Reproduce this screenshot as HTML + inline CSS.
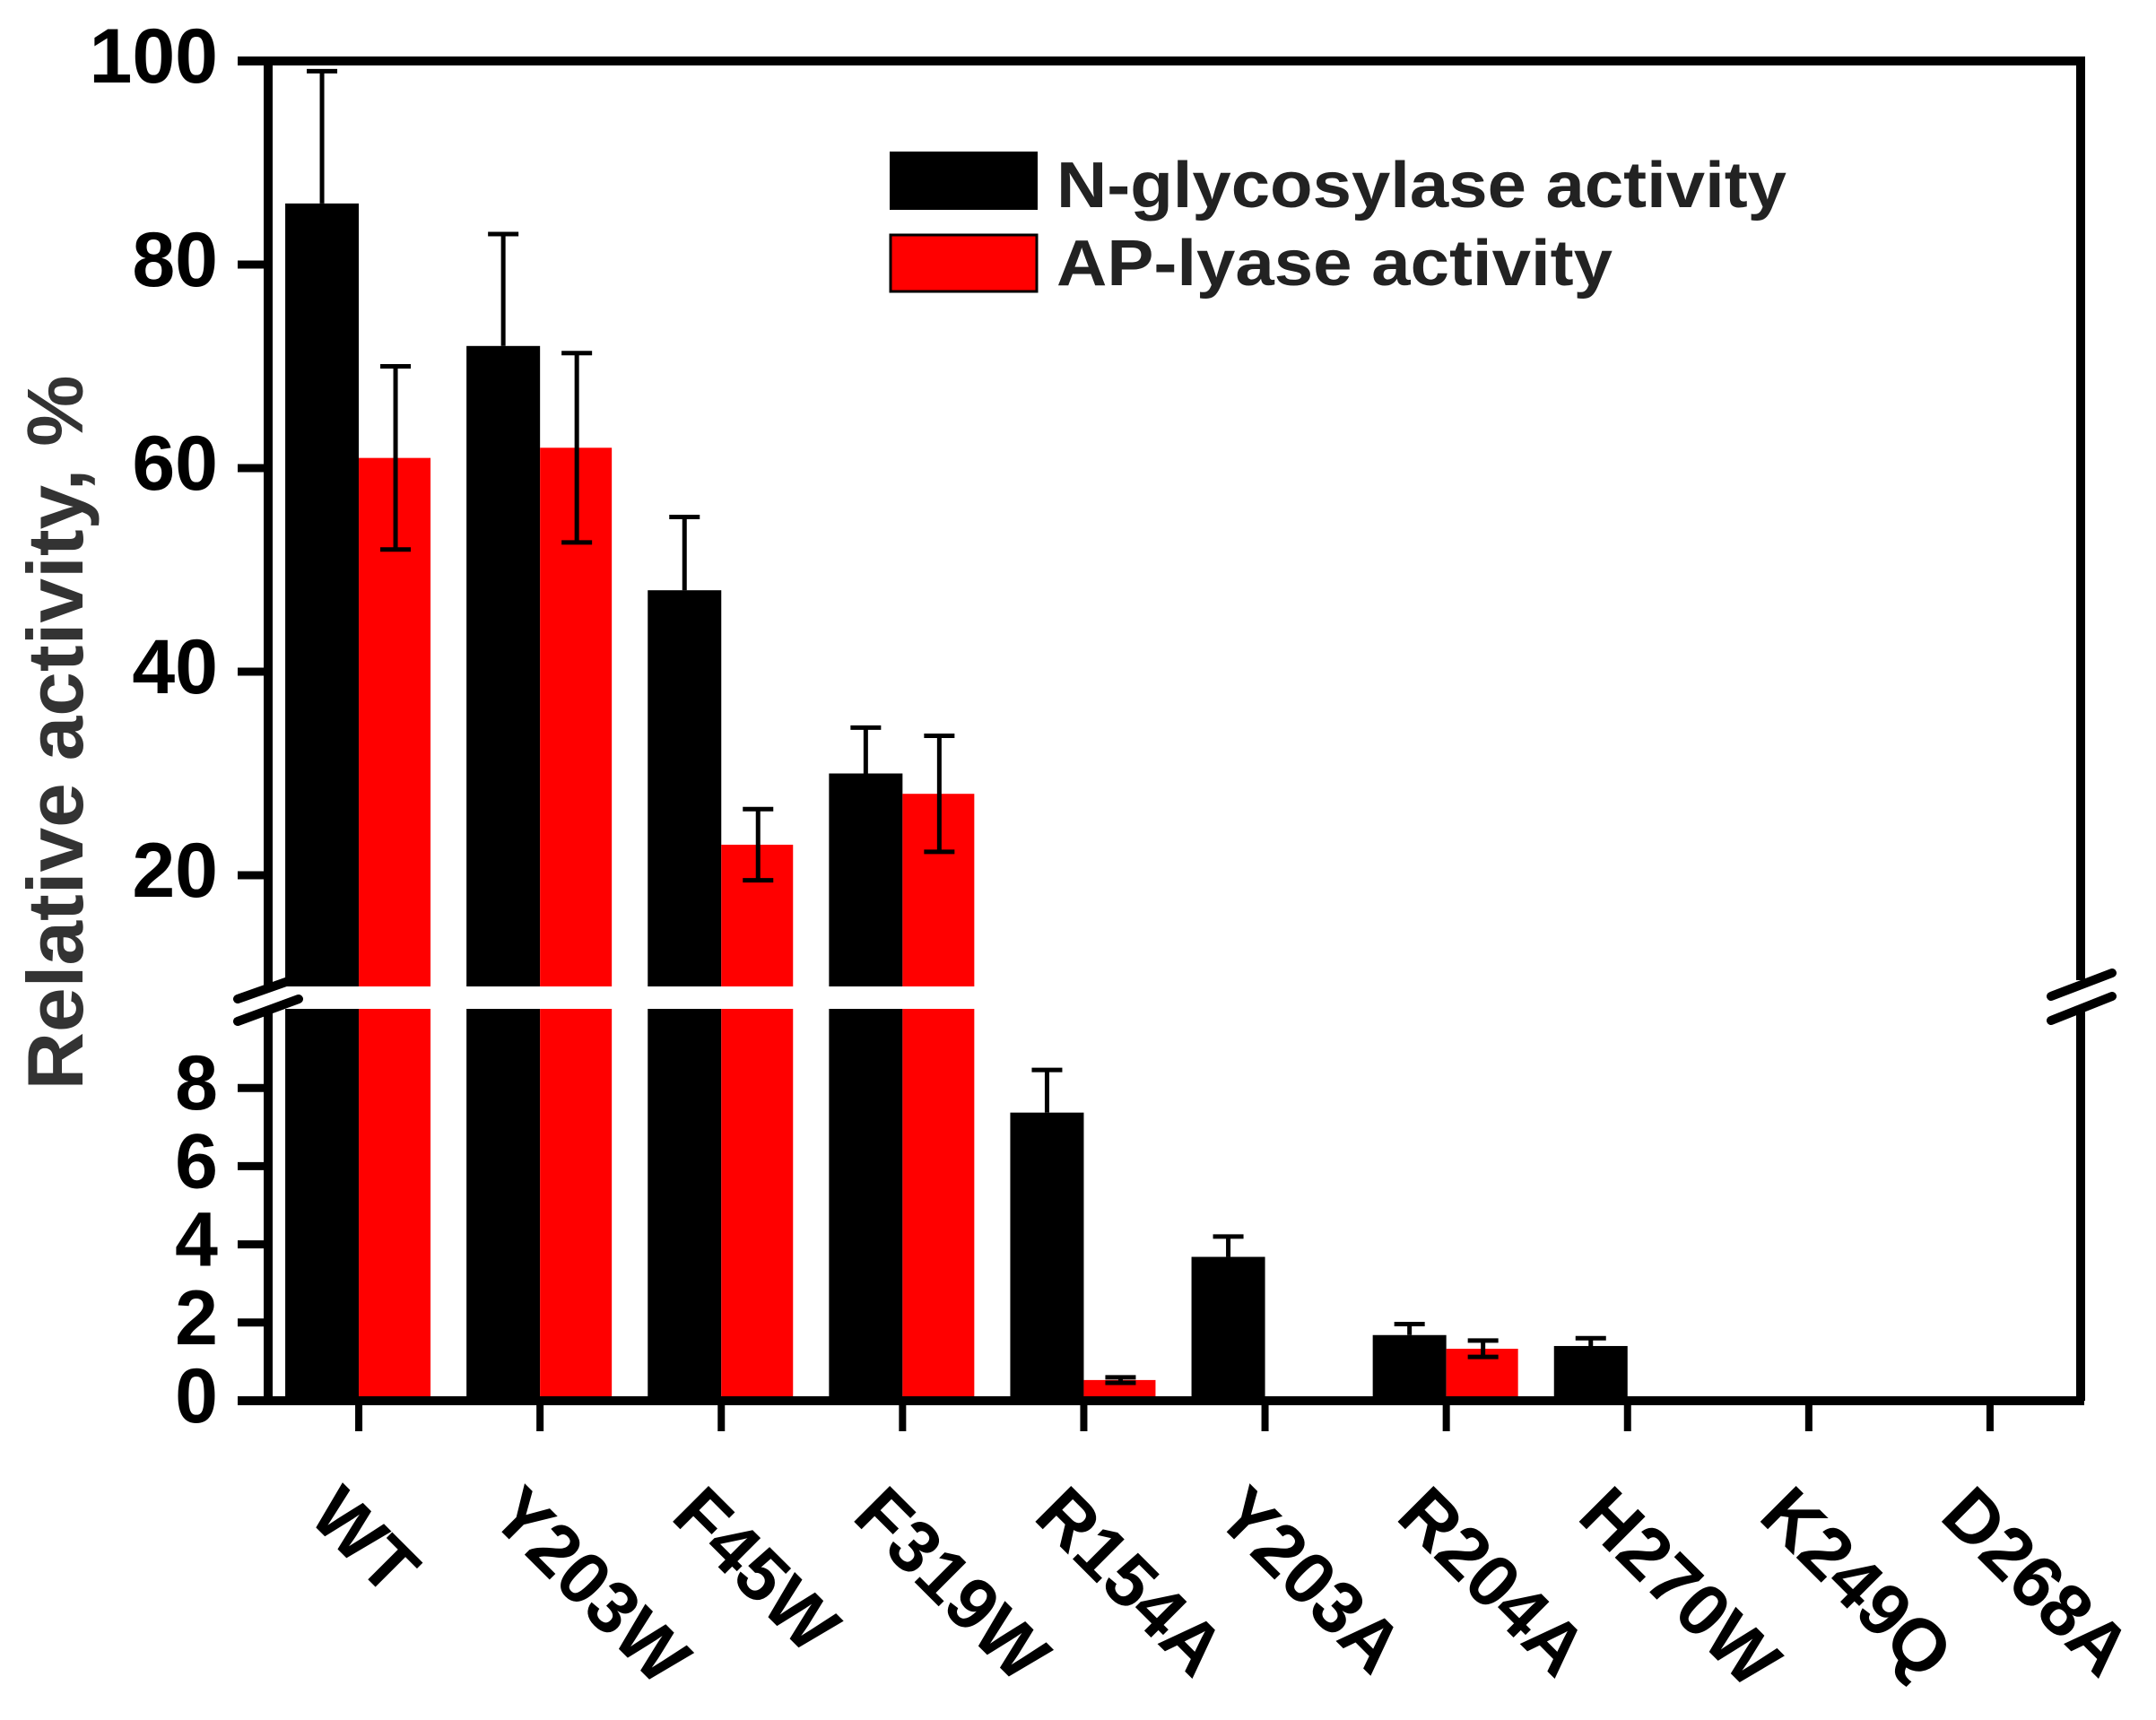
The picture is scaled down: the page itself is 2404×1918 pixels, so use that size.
<!DOCTYPE html>
<html><head><meta charset="utf-8"><style>
html,body{margin:0;padding:0;background:#fff;}
svg{display:block;}
text{font-family:"Liberation Sans",Arial,sans-serif;font-weight:bold;}
</style></head><body>
<svg id="chart" width="2404" height="1918" viewBox="0 0 2404 1918" xmlns="http://www.w3.org/2000/svg">
<g id="bars"></g>
<rect x="305" y="1100" width="2010" height="25" fill="#fff"/>
<g id="axes"></g>
<g>
<rect x="992" y="169" width="165" height="65" fill="#000"/>
<text x="1178" y="231" font-size="72" fill="#222" textLength="814" lengthAdjust="spacingAndGlyphs">N-glycosylase activity</text>
<rect x="993" y="262" width="163" height="63" fill="#f00" stroke="#000" stroke-width="3"/>
<text x="1178" y="318" font-size="72" fill="#222" textLength="620" lengthAdjust="spacingAndGlyphs">AP-lyase activity</text>
</g>
<text transform="translate(92,817) rotate(-90)" text-anchor="middle" font-size="88" fill="#333" textLength="797" lengthAdjust="spacingAndGlyphs">Relative activity, %</text>
</svg>
<script>
const categories = ["WT","Y203W","F45W","F319W","R154A","Y203A","R204A","H270W","K249Q","D268A"];
const glycosylase = [86,72,48,30,7.37,3.68,1.68,1.4,0.05,0.05];
const glycosylaseErr = [13,11,7.2,4.5,1.09,0.52,0.28,0.2,0,0];
const lyase = [61,62,23,28,0.53,0.05,1.33,0.05,0.05,0.05];
const lyaseErr = [9,9.3,3.5,5.7,0.07,0,0.21,0,0,0];
const upperTicks = [20,40,60,80,100];
const lowerTicks = [0,2,4,6,8];

const NS = "http://www.w3.org/2000/svg";
const L = 299, R = 2320, TOP = 68, BOT = 1562;
const band = (R - L) / categories.length;
function xCenter(i){ return L + band * (i + 0.5); }
function yScale(v){ return v >= 9.5 ? TOP + (100 - v) * 11.35 : BOT - v * 43.6; }
function mk(tag, attrs, parent){ const e = document.createElementNS(NS, tag); for (const k in attrs) e.setAttribute(k, attrs[k]); parent.appendChild(e); return e; }

const bars = document.getElementById('bars');
const axes = document.getElementById('axes');
const BW = 82;
categories.forEach((c, i) => {
  const xc = xCenter(i);
  const yb = yScale(glycosylase[i]);
  const b = mk('rect', {x: xc - BW, y: yb, width: BW, height: BOT - yb, fill: glycosylase[i] < 0.2 ? '#999' : '#000'}, bars);
  
  
  const yr = yScale(lyase[i]);
  const r = mk('rect', {x: xc, y: yr, width: BW - 2, height: BOT - yr, fill: lyase[i] < 0.2 ? '#999' : '#f00'}, bars);
  
  
  if (glycosylaseErr[i] > 0) {
    const ex = xc - BW / 2, ye = yScale(glycosylase[i] + glycosylaseErr[i]);
    const g = mk('path', {d: `M${ex},${yb} V${ye} M${ex - 17},${ye} H${ex + 17}`, stroke: '#000', 'stroke-width': 5, fill: 'none'}, bars);
    
    
  }
  if (lyaseErr[i] > 0) {
    const ex = xc + BW / 2, y1 = yScale(lyase[i] + lyaseErr[i]), y2 = yScale(lyase[i] - lyaseErr[i]);
    const g = mk('path', {d: `M${ex},${y2} V${y1} M${ex - 17},${y1} H${ex + 17} M${ex - 17},${y2} H${ex + 17}`, stroke: '#000', 'stroke-width': 5, fill: 'none'}, bars);
    
    
  }
  const t = mk('line', {x1: xc, y1: BOT, x2: xc, y2: 1596, stroke: '#000', 'stroke-width': 8}, axes);
  
  
  const lb = mk('text', {transform: `translate(${xc - 58},1693) rotate(45)`, 'font-size': 82, fill: '#000'}, axes);
  lb.textContent = c;
  
  
});

const axisPath = mk('path', {d: `M265,${TOP} H${R} V1093 M${R},1125 V${BOT} M${L},${TOP} V1100 M${L},1125 V${BOT + 5} M${L - 34},${BOT} H${R + 4}`, stroke: '#000', 'stroke-width': 10, fill: 'none'}, axes);


const brk = mk('path', {d: 'M265,1114 L333,1090 M265,1139 L333,1114 M2287,1111 L2355,1085 M2287,1138 L2355,1111', stroke: '#000', 'stroke-width': 10, 'stroke-linecap': 'round', fill: 'none'}, axes);



upperTicks.concat(lowerTicks).forEach(v => {
  const y = yScale(v);
  const tk = mk('line', {x1: 265, y1: y, x2: L, y2: y, stroke: '#000', 'stroke-width': 9}, axes);
  
  
  const tl = mk('text', {x: 243, y: y + 24, 'text-anchor': 'end', 'font-size': 86, fill: '#000'}, axes);
  tl.textContent = v;
  
  
});
</script>
</body></html>
